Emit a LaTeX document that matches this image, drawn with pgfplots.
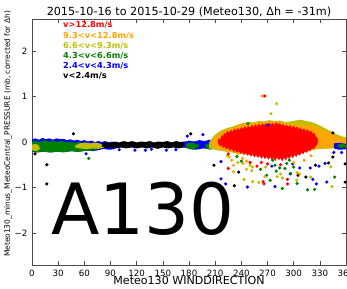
\documentclass[border=0pt]{standalone}
\usepackage{pgfplots}
\pgfplotsset{compat=1.18}
\usepackage{fontspec}
\setmainfont{DejaVu Sans}
\definecolor{mred}{rgb}{1,0,0}
\definecolor{morange}{rgb}{1,0.647,0}
\definecolor{myellow}{rgb}{0.75,0.75,0}
\definecolor{mgreen}{rgb}{0,0.5,0}
\definecolor{mblue}{rgb}{0,0,1}
\begin{document}
\begin{tikzpicture}
\begin{axis}[
  at={(0,0)}, anchor=south west, scale only axis,
  width=235.5pt, height=184.5pt,
  xmin=0, xmax=360, ymin=-2.7, ymax=2.7,
  xtick={0,30,...,360},
  ytick={-2,-1,0,1,2}, yticklabels={−2,−1,0,1,2},
  tick align=inside, major tick length=3pt,
  tick style={black!70, line width=0.4pt},
  axis line style={black!70, line width=0.6pt},
  /pgf/number format/assume math mode=true,
  ticklabel style={font=\fontsize{6.5}{7}\selectfont},
  title={2015-10-16 to 2015-10-29 (Meteo130, Δh = -31m)},
  title style={at={(axis description cs:0.5,1.014)}, anchor=base, yshift=-6pt, font=\fontsize{8.4}{10}\selectfont, inner sep=0pt},
  xlabel={Meteo130 WINDDIRECTION},
  xlabel style={at={(axis description cs:0.5,-0.081)}, anchor=base, font=\fontsize{8.3}{10}\selectfont, inner sep=0pt},
  ylabel={Meteo130\_minus\_MeteoCentral\_PRESSURE (mb, corrected for Δh)},
  ylabel style={at={(axis description cs:-0.0764,0.533)}, anchor=center, font=\fontsize{5.6}{7}\selectfont, inner sep=0pt},
  mark size=1pt,
]
% dense bands drawn as filled areas
\addplot[fill=mblue, draw=none] coordinates {(0,0.06)(4,0.08)(8,0.05)(12,0.09)(16,0.06)(20,0.08)(24,0.05)(28,0.08)(32,0.06)(36,0.07)(40,0.04)(44,0.06)(48,0.03)(52,0.05)(56,0.02)(60,0.04)(64,0.01)(68,0.03)(72,0.0)(76,0.02)(80,0.0)(84,0.02)(88,-0.01)(92,0.01)(96,-0.02)(98,-0.1)(94,-0.16)(88,-0.17)(82,-0.15)(76,-0.18)(70,-0.2)(62,-0.19)(54,-0.21)(46,-0.2)(38,-0.22)(30,-0.21)(22,-0.23)(14,-0.21)(6,-0.23)(0,-0.21)};
\addplot[fill=mgreen, draw=none] coordinates {(0,0.01)(4,0.03)(9,0.0)(14,0.04)(19,0.01)(24,0.03)(29,0.0)(34,0.03)(39,-0.01)(44,0.01)(49,-0.02)(54,0.0)(59,-0.03)(64,-0.02)(69,-0.05)(74,-0.06)(77,-0.1)(75,-0.16)(68,-0.19)(60,-0.2)(52,-0.22)(44,-0.2)(36,-0.23)(28,-0.21)(20,-0.23)(12,-0.21)(5,-0.23)(0,-0.2)};
\addplot[fill=myellow, draw=none] coordinates {(0,-0.06)(4,-0.04)(8,-0.08)(9,-0.15)(5,-0.2)(0,-0.18)};
\addplot[fill=myellow, draw=none] coordinates {(50,-0.07)(55,-0.03)(61,-0.01)(67,-0.03)(73,-0.01)(79,-0.04)(84,-0.08)(82,-0.13)(76,-0.15)(69,-0.14)(62,-0.16)(55,-0.14)(49,-0.12)};
\addplot[fill=black, draw=none] coordinates {(80,-0.03)(85,0.0)(90,-0.02)(95,0.01)(100,-0.01)(105,0.02)(110,0.0)(115,0.02)(120,-0.01)(125,0.01)(130,0.0)(135,0.02)(140,-0.01)(145,0.01)(150,0.0)(155,0.02)(160,-0.01)(165,0.02)(170,0.0)(175,0.01)(180,-0.02)(184,-0.04)(185,-0.1)(180,-0.13)(174,-0.12)(168,-0.14)(162,-0.12)(156,-0.14)(150,-0.12)(144,-0.15)(138,-0.12)(132,-0.14)(126,-0.12)(120,-0.14)(114,-0.12)(108,-0.14)(102,-0.12)(96,-0.14)(90,-0.12)(84,-0.13)(80,-0.1)};
\addplot[fill=mblue, draw=none] coordinates {(174,0.0)(180,0.03)(186,0.01)(192,0.04)(198,0.02)(204,0.05)(208,0.0)(209,-0.1)(204,-0.16)(196,-0.14)(188,-0.17)(180,-0.15)(174,-0.1)};
\addplot[fill=mgreen, draw=none] coordinates {(176,-0.04)(182,-0.01)(188,-0.04)(192,-0.06)(190,-0.12)(184,-0.17)(178,-0.14)};
\addplot[fill=mgreen, draw=none] coordinates {(198,-0.06)(204,-0.03)(208,-0.08)(206,-0.17)(200,-0.15)};
\addplot[fill=myellow, draw=none] coordinates {(203,-0.02)(206,0.08)(210,0.16)(214,0.22)(218,0.26)(224,0.31)(230,0.34)(236,0.38)(242,0.42)(248,0.44)(254,0.43)(260,0.46)(266,0.45)(272,0.48)(278,0.46)(284,0.47)(290,0.44)(296,0.45)(302,0.47)(308,0.49)(314,0.46)(320,0.44)(326,0.4)(332,0.34)(338,0.28)(344,0.22)(350,0.16)(356,0.12)(360,0.1)(360,-0.14)(352,-0.15)(344,-0.14)(336,-0.15)(326,-0.16)(318,-0.2)(300,-0.28)(270,-0.32)(240,-0.26)(225,-0.22)(212,-0.18)(203,-0.14)};
\addplot[fill=morange, draw=none] coordinates {(206,0.02)(210,0.12)(214,0.18)(218,0.22)(224,0.28)(230,0.31)(236,0.35)(242,0.4)(248,0.41)(254,0.4)(260,0.43)(266,0.42)(272,0.45)(278,0.43)(284,0.44)(290,0.4)(296,0.38)(302,0.4)(308,0.37)(314,0.36)(320,0.37)(326,0.33)(332,0.28)(338,0.23)(344,0.18)(350,0.12)(356,0.07)(360,0.05)(360,-0.1)(354,-0.12)(346,-0.11)(338,-0.13)(330,-0.12)(322,-0.16)(314,-0.2)(306,-0.25)(298,-0.29)(290,-0.31)(280,-0.32)(270,-0.31)(260,-0.3)(250,-0.28)(240,-0.24)(232,-0.22)(224,-0.2)(216,-0.17)(210,-0.14)(206,-0.1)};
\addplot[fill=mblue, draw=none] coordinates {(346,-0.03)(352,-0.02)(360,-0.04)(360,-0.16)(352,-0.17)(346,-0.14)};
\addplot[fill=mgreen, draw=none] coordinates {(350,-0.06)(356,-0.04)(360,-0.06)(360,-0.12)(354,-0.13)(350,-0.1)};
\addplot[fill=mred, draw=none] coordinates {(213,0.0)(214,0.08)(216,0.05)(217,0.15)(219,0.12)(220,0.2)(222,0.17)(224,0.25)(226,0.2)(228,0.27)(230,0.22)(232,0.3)(234,0.25)(236,0.31)(238,0.26)(240,0.33)(242,0.28)(244,0.35)(246,0.3)(248,0.36)(250,0.31)(252,0.38)(254,0.32)(256,0.39)(258,0.34)(260,0.4)(262,0.35)(264,0.41)(266,0.36)(268,0.42)(270,0.37)(272,0.43)(274,0.38)(276,0.42)(278,0.37)(280,0.44)(282,0.38)(284,0.42)(286,0.36)(288,0.4)(290,0.34)(292,0.38)(294,0.33)(296,0.37)(298,0.31)(300,0.36)(302,0.3)(304,0.34)(306,0.28)(308,0.32)(310,0.26)(312,0.3)(314,0.24)(316,0.28)(318,0.22)(320,0.25)(322,0.18)(324,0.2)(325,0.12)(327,0.1)(328,0.02)(327,-0.06)(325,-0.1)(323,-0.16)(321,-0.13)(319,-0.2)(317,-0.17)(315,-0.24)(313,-0.2)(311,-0.27)(309,-0.23)(307,-0.3)(305,-0.26)(303,-0.33)(301,-0.28)(299,-0.36)(297,-0.3)(295,-0.38)(293,-0.32)(291,-0.41)(289,-0.34)(287,-0.43)(285,-0.35)(283,-0.4)(281,-0.34)(279,-0.42)(277,-0.35)(275,-0.4)(273,-0.33)(271,-0.39)(269,-0.32)(267,-0.38)(265,-0.31)(263,-0.37)(261,-0.3)(259,-0.35)(257,-0.29)(255,-0.34)(253,-0.27)(251,-0.32)(249,-0.26)(247,-0.3)(245,-0.24)(243,-0.29)(241,-0.22)(239,-0.26)(237,-0.2)(235,-0.24)(233,-0.18)(231,-0.22)(229,-0.15)(227,-0.19)(225,-0.13)(223,-0.16)(221,-0.1)(219,-0.13)(217,-0.07)(215,-0.09)};
% scattered points
\addplot[only marks, mark=*, color=black] coordinates {(3.4,-0.26)(17,-0.5)(17,-0.92)(47.5,0.18)(182,0.18)(208.6,-0.51)(232,-0.96)(237,-0.66)(305,-0.73)(314,-0.77)(325,-0.51)(345,0.2)(345,-0.33)(359,-0.48)(359,-0.88)(340,-0.46)};
\addplot[only marks, mark=*, color=mblue] coordinates {(62,-0.26)(100,-0.17)(118,-0.18)(130,-0.18)(137,-0.16)(154,-0.18)(165,-0.17)(178,0.13)(196,0.16)(216.7,-0.43)(216.7,-0.81)(222,-0.92)(247,-0.99)(275,-0.53)(278.6,-0.98)(296,-0.7)(299,-0.48)(307,-0.57)(319,-0.57)(329,-0.53)(336,-0.47)(322,-0.82)(326,-0.92)(338,-0.88)(346,-0.23)(355,-0.23)(270.6,0.37)};
\addplot[only marks, mark=*, color=mgreen] coordinates {(65,-0.36)(247.6,0.4)(269,-0.73)(273,-0.84)(278.6,-0.51)(284,-0.57)(292,-0.47)(295,-0.4)(296.6,-0.69)(287,-1.02)(304,-0.91)(316,-1.05)(324,-1.04)(347,-0.77)(276,-0.4)(235,-0.32)(262,-0.6)(280,-0.64)(290,-0.58)(300,-0.55)(240,-0.42)};
\addplot[only marks, mark=*, color=myellow] coordinates {(280.5,0.84)(274,0.62)(243,-0.82)(250,-0.51)(253,-0.55)(252,-0.63)(253,-0.87)(260,-0.89)(281,-0.76)(285,-0.7)(287,-0.79)(303.5,-0.84)(304,-0.67)(344,-0.98)(342.5,-0.54)(319.5,-0.77)(236,-0.45)(224,-0.3)(268,-0.55)(246,-0.6)};
\addplot[only marks, mark=*, color=morange] coordinates {(264,1.01)(229,-0.4)(231,-0.51)(231,-0.65)(236,-0.26)(241.5,-0.36)(242,-0.47)(267,-0.76)(307,-0.7)(226,-0.33)(246,-0.42)(300,-0.45)(312,-0.4)(320,-0.3)};
\addplot[only marks, mark=*, color=mred] coordinates {(267,1.01)(225,-0.26)(225,-0.58)(258,-0.53)(263,-0.45)(265,-0.87)(266,-0.92)(293,-0.82)(293,-0.92)(270,-0.48)(250,-0.45)(285,-0.5)};
% speed class labels
\begin{scope}[every node/.style={anchor=west, inner sep=0pt, font=\bfseries\fontsize{6.2}{7}\selectfont}]
\node[text=mred] at (axis cs:35.5,2.565) {v>12.8m/s};
\node[text=morange] at (axis cs:35.5,2.33) {9.3<v<12.8m/s};
\node[text=myellow] at (axis cs:35.5,2.11) {6.6<v<9.3m/s};
\node[text=mgreen] at (axis cs:35.5,1.89) {4.3<v<6.6m/s};
\node[text=mblue] at (axis cs:35.5,1.67) {2.4<v<4.3m/s};
\node[text=black] at (axis cs:35.5,1.45) {v<2.4m/s};
\end{scope}
\node[anchor=base west, inner sep=0pt, font=\fontsize{53}{60}\selectfont] at (axis cs:22,-2.04) {A130};
\end{axis}
\pgfresetboundingbox
\path[use as bounding box] (-24pt,-18pt) rectangle (236.25pt,198.75pt);
\end{tikzpicture}
\end{document}
